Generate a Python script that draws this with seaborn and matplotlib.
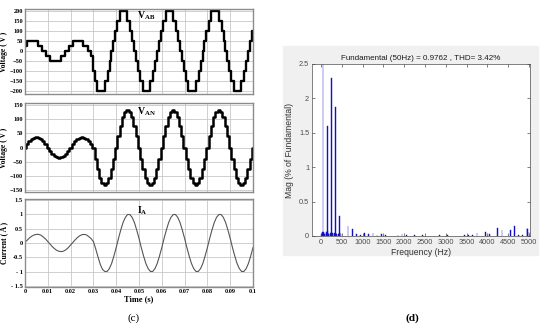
import numpy as np
import pandas as pd
import matplotlib
matplotlib.use("Agg")
import matplotlib.pyplot as plt
from matplotlib.patches import Rectangle
import seaborn as sns

# ---- panel (c): inverter waveforms over 0 .. 0.1 s ----
# line voltage V_AB: switching instants (s) and the level (V) held after each one
vab_time = [0.0000, 0.0010, 0.0056, 0.0075, 0.0091, 0.0110, 0.0156, 0.0175, 0.0191,
            0.0210, 0.0256, 0.0275, 0.0291, 0.0300, 0.0305, 0.0317,
            0.0349, 0.0362, 0.0371, 0.0379, 0.0387, 0.0396, 0.0405, 0.0417,
            0.0449, 0.0462, 0.0471, 0.0479, 0.0487, 0.0496, 0.0505, 0.0517,
            0.0549, 0.0562, 0.0571, 0.0579, 0.0587, 0.0596, 0.0605, 0.0617,
            0.0649, 0.0662, 0.0671, 0.0679, 0.0687, 0.0696, 0.0705, 0.0717,
            0.0749, 0.0762, 0.0771, 0.0779, 0.0787, 0.0796, 0.0805, 0.0817,
            0.0849, 0.0862, 0.0871, 0.0879, 0.0887, 0.0896, 0.0905, 0.0917,
            0.0949, 0.0962, 0.0971, 0.0979, 0.0987, 0.0996, 0.1000]
vab_level = [25, 50, 25, 0, -25, -50, -25, 0, 25, 50, 25, 0, -25, -100, -150, -200,
             -150, -100, -50, 0, 50, 100, 150, 200, 150, 100, 50, 0, -50, -100, -150, -200,
             -150, -100, -50, 0, 50, 100, 150, 200, 150, 100, 50, 0, -50, -100, -150, -200,
             -150, -100, -50, 0, 50, 100, 150, 200, 150, 100, 50, 0, -50, -100, -150, -200,
             -150, -100, -50, 0, 50, 100, 100]

# phase voltage V_AN (V), read every 1 ms
van_volts = [0, 12, 22, 30, 35, 37, 35, 30, 22, 12,
             0, -12, -22, -30, -35, -37, -35, -30, -22, -12,
             0, 12, 22, 30, 35, 37, 35, 30, 22, 12,
             0, -42, -75, -108, -125, -133, -125, -108, -75, -42,
             0, 42, 75, 108, 125, 133, 125, 108, 75, 42,
             0, -42, -75, -108, -125, -133, -125, -108, -75, -42,
             0, 42, 75, 108, 125, 133, 125, 108, 75, 42,
             0, -42, -75, -108, -125, -133, -125, -108, -75, -42,
             0, 42, 75, 108, 125, 133, 125, 108, 75, 42,
             0, -42, -75, -108, -125, -133, -125, -108, -75, -42,
             0]

# load current I_A (A), read every 1 ms
ia_amps = [0.03, 0.10, 0.18, 0.24, 0.28, 0.30, 0.30, 0.27, 0.21, 0.14,
           0.05, -0.04, -0.13, -0.20, -0.26, -0.29, -0.30, -0.28, -0.23, -0.16,
           -0.07, 0.02, 0.11, 0.19, 0.25, 0.29, 0.30, 0.28, 0.22, 0.15,
           0.05, -0.20, -0.48, -0.74, -0.92, -0.99, -0.99, -0.89, -0.71, -0.45,
           -0.16, 0.16, 0.45, 0.71, 0.89, 0.99, 0.99, 0.89, 0.71, 0.45,
           0.16, -0.16, -0.45, -0.71, -0.89, -0.99, -0.99, -0.89, -0.71, -0.45,
           -0.16, 0.16, 0.45, 0.71, 0.89, 0.99, 0.99, 0.89, 0.71, 0.45,
           0.16, -0.16, -0.45, -0.71, -0.89, -0.99, -0.99, -0.89, -0.71, -0.45,
           -0.16, 0.16, 0.45, 0.71, 0.89, 0.99, 0.99, 0.89, 0.71, 0.45,
           0.16, -0.16, -0.45, -0.71, -0.89, -0.99, -0.99, -0.89, -0.71, -0.45,
           -0.16]

time_ticks = [0, 0.01, 0.02, 0.03, 0.04, 0.05, 0.06, 0.07, 0.08, 0.09, 0.1]
time_labels = ["0", "0.01", "0.02", "0.03", "0.04", "0.05", "0.06", "0.07", "0.08", "0.09", "0.1"]
amp_ticks = [-1.5, -1, -0.5, 0, 0.5, 1, 1.5]
amp_labels = ["- 1.5", "- 1", "-0.5", "0", "0.5", "1", "1.5"]

# ---- panel (d): FFT of the current ----
fft_freq = [20, 30, 40, 50, 60, 70, 80, 120, 130, 140, 150, 160, 170, 180,
            220, 230, 240, 250, 260, 270, 320, 330, 340, 350, 360, 370,
            420, 440, 450, 460, 480, 650, 750, 850, 950, 1050, 1150, 1250,
            1350, 1450, 1550, 1850, 1950, 2050, 2250, 2450, 2850, 3050,
            3450, 3550, 3650, 3750, 3950, 4050, 4250, 4350, 4550, 4650,
            4750, 4850, 4950, 4970, 5000]
fft_mag = [0.03, 0.05, 0.06, 100, 0.06, 0.05, 0.03, 0.03, 0.05, 0.06, 1.60, 0.07, 0.05, 0.03,
           0.03, 0.04, 0.05, 2.30, 0.05, 0.04, 0.03, 0.04, 0.05, 1.88, 0.05, 0.03,
           0.03, 0.04, 0.29, 0.04, 0.03, 0.14, 0.10, 0.03, 0.02, 0.05, 0.03, 0.04,
           0.02, 0.03, 0.02, 0.02, 0.03, 0.02, 0.01, 0.01, 0.01, 0.01,
           0.02, 0.02, 0.01, 0.04, 0.06, 0.03, 0.11, 0.09, 0.09, 0.14,
           0.01, 0.02, 0.12, 0.10, 0.06]

serif = "Liberation Serif"
sans = "Liberation Sans"
plt.rcParams["mathtext.fontset"] = "custom"
plt.rcParams["mathtext.bf"] = "Liberation Serif:bold"
plt.rcParams["mathtext.rm"] = "Liberation Serif"

W, H = 550, 331
fig = plt.figure(figsize=(5.5, 3.31), dpi=100)


def box(l, t, r, b):
    return [l / W, 1 - b / H, (r - l) / W, (b - t) / H]


sample_time = np.arange(len(van_volts)) / 1000.0
vab = pd.DataFrame({"t": vab_time, "v": vab_level})
van = pd.DataFrame({"t": sample_time, "v": van_volts})
ia = pd.DataFrame({"t": sample_time, "i": ia_amps})

ax1 = fig.add_axes(box(25, 9, 253, 94))
ax2 = fig.add_axes(box(25, 103, 253, 192))
ax3 = fig.add_axes(box(25, 199, 253, 287))

sns.lineplot(data=vab, x="t", y="v", ax=ax1, color="black", lw=1.7, drawstyle="steps-post")
sns.lineplot(data=van, x="t", y="v", ax=ax2, color="black", lw=1.8, drawstyle="steps-mid")
sns.lineplot(data=ia, x="t", y="i", ax=ax3, color="#555555", lw=0.8)

panels = [
    (ax1, (-215, 212), [-200, -150, -100, -50, 0, 50, 100, 150, 200], "Voltage ( V )",
     r"$\mathbf{V}_{\mathbf{AB}}$", 178),
    (ax2, (-157, 157), [-150, -100, -50, 0, 50, 100, 150], "Voltage ( V )",
     r"$\mathbf{V}_{\mathbf{AN}}$", 128),
    (ax3, (-1.53, 1.53), amp_ticks, "Current ( A )",
     r"$\mathbf{I}_{\mathbf{A}}$", 1.12),
]
for ax, ylim, yt, ylab, tag, tag_y in panels:
    ax.set_xlim(0, 0.1)
    ax.set_ylim(*ylim)
    ax.set_yticks(yt)
    ax.set_xticks(time_ticks)
    ax.grid(True, color="#c8c8c8", lw=0.6)
    ax.set_axisbelow(True)
    ax.tick_params(length=0, pad=1.5, labelsize=4.6)
    for sp in ax.spines.values():
        sp.set_color("#8c8c8c")
        sp.set_linewidth(1.0)
    ax.set_ylabel(ylab, fontfamily=serif, fontweight="bold", fontsize=5.5)
    ax.yaxis.set_label_coords(-0.075, 0.5)
    ax.set_xlabel("")
    ax.text(0.049, tag_y, tag, fontsize=7, va="center", ha="left")

ax3.set_yticklabels(amp_labels)
for ax in (ax1, ax2, ax3):
    for lab in ax.get_yticklabels():
        lab.set_fontfamily(serif)
        lab.set_fontweight("bold")

ax1.set_xticklabels([])
ax2.set_xticklabels([])
ax3.set_xticklabels(time_labels, fontfamily=serif, fontweight="bold")
ax3.set_xlabel("Time (s)", fontfamily=serif, fontweight="bold", fontsize=6, labelpad=1)

fig.text(134 / W, 1 - 318 / H, "(c)", fontfamily=serif, fontsize=8, ha="center", va="center")

# panel (d): grey MATLAB window behind the spectrum
fig.add_artist(Rectangle((283 / W, 1 - 255 / H), 255 / W, 209 / H,
                         transform=fig.transFigure, color="#f0f0f0", zorder=0))
ax4 = fig.add_axes(box(312, 64, 530, 236))
ax4.bar(fft_freq, fft_mag, width=18, color="#1010c8", edgecolor="#1010c8", lw=0.3)
ax4.set_xlim(-215, 5025)
ax4.set_ylim(0, 2.5)
ax4.set_xticks(range(0, 5001, 500))
ax4.set_yticks([0, 0.5, 1, 1.5, 2, 2.5])
ax4.set_yticklabels(["0", "0.5", "1", "1.5", "2", "2.5"])
ax4.tick_params(direction="in", top=True, right=True, length=2, width=0.5,
                labelsize=5.3, colors="#4d4d4d", pad=2)
for lab in ax4.get_xticklabels() + ax4.get_yticklabels():
    lab.set_fontfamily(sans)
for sp in ax4.spines.values():
    sp.set_color("#4d4d4d")
    sp.set_linewidth(0.5)
ax4.set_title("Fundamental (50Hz) = 0.9762 , THD= 3.42%", fontfamily=sans,
              fontsize=5.8, color="#1a1a1a", pad=3)
ax4.set_xlabel("Frequency (Hz)", fontfamily=sans, fontsize=6.2, color="#333333", labelpad=1.5)
ax4.set_ylabel("Mag (% of Fundamental)", fontfamily=sans, fontsize=6.2, color="#333333", labelpad=4)

fig.text(412 / W, 1 - 318 / H, "(d)", fontfamily=serif, fontweight="bold", fontsize=8,
         ha="center", va="center")

fig.savefig("out.png", dpi=100)
